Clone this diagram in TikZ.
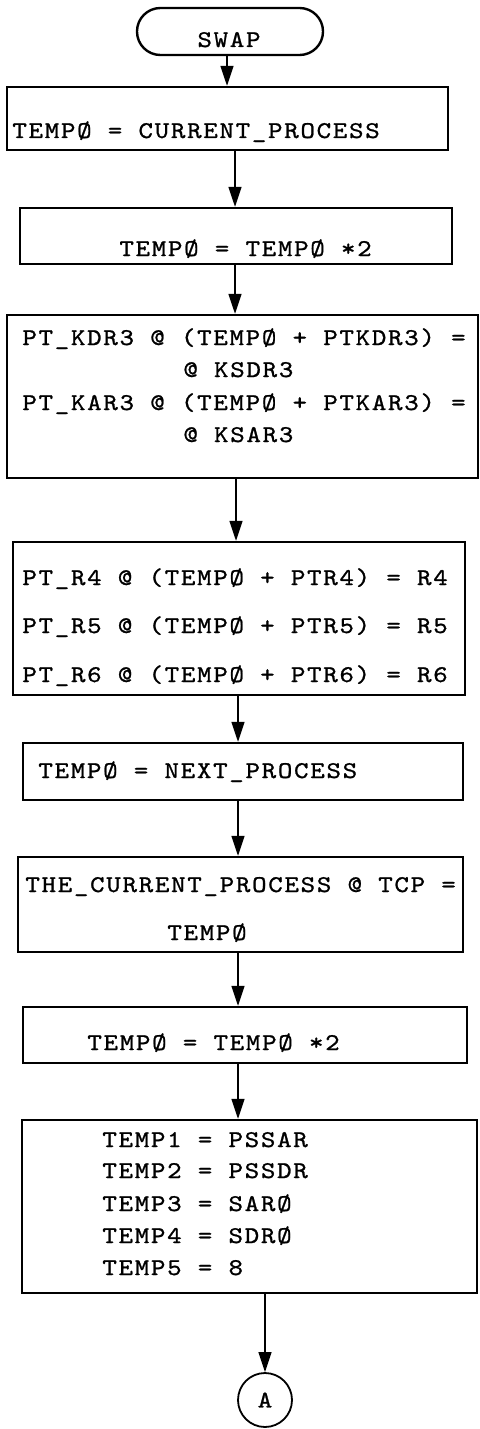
\documentclass[tikz,border=0pt]{standalone}
\usepackage{fontspec}
\usetikzlibrary{arrows.meta}
\newfontfamily\flowtt{lmmono10-regular}[Extension=.otf,FakeStretch=1.15,LetterSpace=7.1,FakeBold=1]
\newcommand\flowfont{\fontsize{12pt}{14pt}\flowtt\fontdimen2\font=8.1pt\fontdimen3\font=0pt\fontdimen4\font=0pt}
\begin{document}
\begin{tikzpicture}[x=0.5pt,y=-0.5pt,
  box/.style={draw,line width=1.2pt,rectangle,inner sep=0pt},
  term/.style={draw,line width=1.2pt,rectangle,rounded corners=11.7pt,inner sep=0pt,minimum width=93pt,minimum height=23.5pt},
  conn/.style={draw,circle,line width=0.9pt,inner sep=0pt,minimum size=27pt,font=\flowfont},
  txt/.style={anchor=base west,inner sep=0pt,font=\flowfont},
  arr/.style={line width=0.7pt,-{Triangle[length=10pt,width=6.5pt]}}]
\useasboundingbox (0,0) rectangle (480,1429);
\fill[white] (0,0) rectangle (480,1429);
% nodes
\node[term] (T) at (230,31.5) {};
\node[txt,anchor=base] (tT) at (229,47) {SWAP};
\node[box,minimum width=220.5pt,minimum height=31.5pt] (b1) at (227.5,118.5) {};
\node[box,minimum width=216pt,minimum height=28pt] (b2) at (236,236) {};
\node[box,minimum width=235.5pt,minimum height=81.5pt] (b3) at (242.5,396.5) {};
\node[box,minimum width=226pt,minimum height=76.5pt] (b4) at (239,618.5) {};
\node[box,minimum width=220pt,minimum height=28.5pt] (b5) at (243,771.5) {};
\node[box,minimum width=222.5pt,minimum height=47.5pt] (b6) at (240.5,904.5) {};
\node[box,minimum width=222pt,minimum height=28pt] (b7) at (245,1035) {};
\node[box,minimum width=227.5pt,minimum height=86.5pt] (b8) at (249.5,1206.5) {};
\node[conn] (A) at (265,1400) {A};
% texts
\node[txt] (t1) at (12,138) {TEMPØ = CURRENT\_PROCESS};
\node[txt] (t2) at (119,256) {TEMPØ = TEMPØ *2};
\node[txt] (t3a) at (22,345) {PT\_KDR3 @ (TEMPØ + PTKDR3) =};
\node[txt] (t3b) at (183,377) {@ KSDR3};
\node[txt] (t3c) at (22,410) {PT\_KAR3 @ (TEMPØ + PTKAR3) =};
\node[txt] (t3d) at (183,442) {@ KSAR3};
\node[txt] (t4a) at (22,585) {PT\_R4 @ (TEMPØ + PTR4) = R4};
\node[txt] (t4b) at (22,633) {PT\_R5 @ (TEMPØ + PTR5) = R5};
\node[txt] (t4c) at (22,682) {PT\_R6 @ (TEMPØ + PTR6) = R6};
\node[txt] (t5) at (38,778) {TEMPØ = NEXT\_PROCESS};
\node[txt] (t6a) at (25,892) {THE\_CURRENT\_PROCESS @ TCP =};
\node[txt] (t6b) at (167,940) {TEMPØ};
\node[txt] (t7) at (87,1050) {TEMPØ = TEMPØ *2};
\node[txt] (t8a) at (102,1147) {TEMP1 = PSSAR};
\node[txt] (t8b) at (102,1178) {TEMP2 = PSSDR};
\node[txt] (t8c) at (102,1211) {TEMP3 = SARØ};
\node[txt] (t8d) at (102,1243) {TEMP4 = SDRØ};
\node[txt] (t8e) at (102,1275) {TEMP5 = 8};
% connectors
\coordinate (x1) at (227,0);
\coordinate (x2) at (235,0);
\coordinate (x3) at (236,0);
\coordinate (x4) at (238,0);
\draw[arr] (T.south -| x1) -- (b1.north -| x1);
\draw[arr] (b1.south -| x2) -- (b2.north -| x2);
\draw[arr] (b2.south -| x2) -- (b3.north -| x2);
\draw[arr] (b3.south -| x3) -- (b4.north -| x3);
\draw[arr] (b4.south -| x4) -- (b5.north -| x4);
\draw[arr] (b5.south -| x4) -- (b6.north -| x4);
\draw[arr] (b6.south -| x4) -- (b7.north -| x4);
\draw[arr] (b7.south -| x4) -- (b8.north -| x4);
\draw[arr] (b8.south -| A.north) -- (A.north);
\end{tikzpicture}
\end{document}
